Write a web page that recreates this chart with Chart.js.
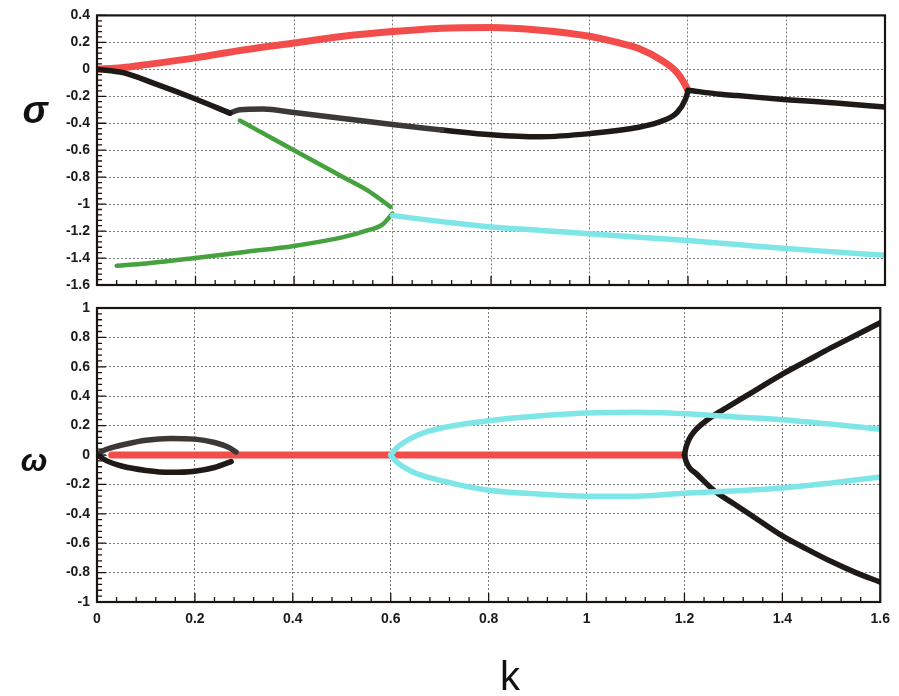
<!DOCTYPE html>
<html>
<head>
<meta charset="utf-8">
<script src="https://cdn.jsdelivr.net/npm/chart.js@4.4.0/dist/chart.umd.min.js"></script>
<style>
  html, body { margin: 0; padding: 0; background: #fff; }
  #wrap { position: relative; width: 899px; height: 696px; overflow: hidden; }
  #wrap canvas { position: absolute; left: 0; top: 0; }
  .lbl { position: absolute; font-family: "Liberation Sans", Arial, sans-serif; color: #111; transform: translate(-50%, -50%); line-height: 1; }
  #sig { left: 35px; top: 110px; font-size: 38px; font-weight: bold; font-style: italic; }
  #omg { left: 34px; top: 460px; font-size: 32px; font-weight: bold; font-style: italic; }
  #kk { left: 510px; top: 676px; font-size: 40px; }
</style>
</head>
<body>
<div id="wrap">
  <canvas id="topChart" width="899" height="696"></canvas>
  <canvas id="botChart" width="899" height="696"></canvas>
  <div class="lbl" id="sig">σ</div>
  <div class="lbl" id="omg">ω</div>
  <div class="lbl" id="kk">k</div>
</div>
<script>
// ---- data ----
// top panel: sigma(k)
const redTopK = [0, 0.05, 0.1, 0.2, 0.3, 0.4, 0.5, 0.6, 0.7, 0.8, 0.9, 1.0, 1.05, 1.1, 1.145, 1.178, 1.195, 1.2];
const redTopS = [0, 0.012, 0.035, 0.085, 0.145, 0.195, 0.245, 0.28, 0.305, 0.31, 0.29, 0.245, 0.205, 0.155, 0.07, -0.025, -0.12, -0.16];

const blackTopK = [0, 0.053, 0.12, 0.2, 0.27];
const blackTopS = [0, -0.025, -0.11, -0.22, -0.325];

const greyTopK = [0.27, 0.29, 0.337, 0.4, 0.5, 0.6, 0.7];
const greyTopS = [-0.325, -0.3, -0.295, -0.32, -0.365, -0.41, -0.45];

const loopTopK = [0.7, 0.8, 0.9, 1.0, 1.1, 1.15, 1.178, 1.195, 1.2];
const loopTopS = [-0.45, -0.485, -0.5, -0.477, -0.43, -0.38, -0.32, -0.22, -0.16];

const rightTopK = [1.2, 1.266, 1.3, 1.4, 1.5, 1.6];
const rightTopS = [-0.155, -0.185, -0.195, -0.225, -0.25, -0.28];

const greenUpK = [0.29, 0.35, 0.4, 0.45, 0.5, 0.55, 0.596];
const greenUpS = [-0.38, -0.5, -0.6, -0.7, -0.8, -0.9, -1.02];

const greenLowK = [0.04, 0.1, 0.2, 0.3, 0.4, 0.5, 0.547, 0.58, 0.6];
const greenLowS = [-1.457, -1.44, -1.4, -1.355, -1.31, -1.245, -1.197, -1.15, -1.07];

const cyanTopK = [0.6, 0.7, 0.8, 0.9, 1.0, 1.1, 1.2, 1.3, 1.4, 1.5, 1.6];
const cyanTopS = [-1.085, -1.13, -1.17, -1.195, -1.22, -1.245, -1.27, -1.3, -1.33, -1.355, -1.38];

// bottom panel: omega(k)
const redBotK = [0.03, 1.2];
const redBotW = [0, 0];

const greyBotK = [0, 0.01, 0.03, 0.06, 0.1, 0.15, 0.2, 0.24, 0.27, 0.284];
const greyBotW = [0, 0.025, 0.05, 0.075, 0.1, 0.112, 0.108, 0.085, 0.05, 0.02];

const blackBotK = [0, 0.02, 0.05, 0.1, 0.15, 0.2, 0.24, 0.274];
const blackBotW = [0, -0.04, -0.075, -0.105, -0.118, -0.11, -0.085, -0.045];

const cyanUpK = [0.6, 0.608, 0.629, 0.676, 0.8, 0.9, 1.0, 1.1, 1.2, 1.3, 1.4, 1.5, 1.6];
const cyanUpW = [0, 0.034, 0.09, 0.16, 0.233, 0.265, 0.285, 0.29, 0.28, 0.26, 0.24, 0.21, 0.175];

const cyanLowK = [0.6, 0.608, 0.642, 0.71, 0.8, 0.9, 1.0, 1.1, 1.2, 1.3, 1.4, 1.5, 1.6];
const cyanLowW = [0, -0.034, -0.11, -0.18, -0.24, -0.265, -0.28, -0.28, -0.26, -0.245, -0.225, -0.19, -0.15];

const parUpK = [1.2, 1.203, 1.21, 1.22, 1.245, 1.28, 1.32, 1.36, 1.4, 1.45, 1.5, 1.55, 1.6];
const parUpW = [0, 0.05, 0.11, 0.16, 0.235, 0.31, 0.39, 0.47, 0.55, 0.64, 0.73, 0.815, 0.9];

const parLowK = [1.2, 1.203, 1.21, 1.225, 1.26, 1.3, 1.35, 1.4, 1.45, 1.5, 1.55, 1.6];
const parLowW = [0, -0.04, -0.085, -0.13, -0.24, -0.33, -0.44, -0.55, -0.64, -0.725, -0.8, -0.865];

// ---- styles ----
const RED = '#f24d4a';
const BLACK = '#1e1a18';
const GREEN = '#46a23e';
const CYAN = '#7fe6e8';

function pts(ks, vs) {
  return ks.map(function (k, i) { return { x: k, y: vs[i] }; });
}
function curve(ks, vs, color, width, dash) {
  return {
    data: pts(ks, vs),
    borderColor: color,
    borderWidth: width,
    borderDash: dash || [],
    showLine: true,
    pointRadius: 0,
    fill: false,
    cubicInterpolationMode: 'monotone',
    borderCapStyle: 'round',
  };
}
// dark line with light dots on it, like the ring markers in the picture
function chain(ks, vs) {
  return [curve(ks, vs, '#3b3836', 5.5), curve(ks, vs, '#d0d0d0', 1.6, [1.5, 2.5])];
}

// frame + small inward ticks
const framePlugin = {
  id: 'frame',
  afterDraw(chart, args, opts) {
    const ctx = chart.ctx;
    const a = chart.chartArea;
    const x = chart.scales.x;
    const y = chart.scales.y;
    ctx.save();
    ctx.strokeStyle = '#1a1410';
    ctx.lineWidth = 1.3;
    ctx.beginPath();
    for (let i = 0; i <= 40; i++) {
      const px = x.getPixelForValue(i * 0.04);
      const len = i % 5 === 0 ? 9 : 5;
      ctx.moveTo(px, a.bottom);
      ctx.lineTo(px, a.bottom - len);
    }
    const n = Math.round((opts.ymax - opts.ymin) / 0.04);
    for (let j = 0; j <= n; j++) {
      const py = y.getPixelForValue(opts.ymin + j * 0.04);
      const len = j % 5 === 0 ? 9 : 5;
      ctx.moveTo(a.left, py);
      ctx.lineTo(a.left + len, py);
    }
    ctx.stroke();
    ctx.lineWidth = 2.2;
    ctx.strokeRect(a.left, a.top, a.right - a.left, a.bottom - a.top);
    ctx.restore();
  }
};

const tickFont = { family: '"Liberation Sans", Arial, sans-serif', weight: 'bold', size: 14 };

function makeOptions(ymin, ymax, padding, showX) {
  return {
    responsive: false,
    animation: false,
    layout: { padding: padding },
    plugins: { legend: { display: false }, tooltip: { enabled: false }, frame: { ymin: ymin, ymax: ymax } },
    scales: {
      x: {
        type: 'linear', min: 0, max: 1.6,
        ticks: {
          display: showX, stepSize: 0.2, padding: 9, color: '#1a1a1a', font: tickFont,
          callback: function (v) { return String(+v.toFixed(1)); }
        },
        grid: { color: '#7a7a7a', lineWidth: 1, drawTicks: false },
        border: { display: false, dash: [2, 2] },
        afterFit: function (s) { s.height = showX ? 94 : 0; }
      },
      y: {
        type: 'linear', min: ymin, max: ymax,
        ticks: {
          stepSize: 0.2, padding: 7, color: '#1a1a1a', font: tickFont,
          callback: function (v) { return String(+v.toFixed(1)); }
        },
        grid: { color: '#7a7a7a', lineWidth: 1, drawTicks: false },
        border: { display: false, dash: [2, 2] },
        afterFit: function (s) { s.width = 97; }
      }
    }
  };
}

new Chart(document.getElementById('topChart'), {
  type: 'scatter',
  data: {
    datasets: [
      curve(cyanTopK, cyanTopS, CYAN, 5.5),
      curve(greenLowK, greenLowS, GREEN, 4.5),
      curve(greenUpK, greenUpS, GREEN, 4.5),
      curve(blackTopK, blackTopS, BLACK, 5.5),
    ].concat(chain(greyTopK, greyTopS), [
      curve(loopTopK, loopTopS, BLACK, 5.5),
      curve(rightTopK, rightTopS, BLACK, 5.5),
      curve(redTopK, redTopS, RED, 7),
    ])
  },
  options: makeOptions(-1.6, 0.4, { left: 0, top: 12, right: 14, bottom: 411 }, false),
  plugins: [framePlugin]
});

new Chart(document.getElementById('botChart'), {
  type: 'scatter',
  data: {
    datasets: [
      curve(cyanUpK, cyanUpW, CYAN, 5.5),
      curve(cyanLowK, cyanLowW, CYAN, 5.5),
      curve(parUpK, parUpW, BLACK, 5.5),
      curve(parLowK, parLowW, BLACK, 5.5),
      curve(blackBotK, blackBotW, BLACK, 5.5),
    ].concat(chain(greyBotK, greyBotW), [
      curve(redBotK, redBotW, RED, 7),
    ])
  },
  options: makeOptions(-1, 1, { left: 0, top: 308, right: 14, bottom: 0 }, true),
  plugins: [framePlugin]
});
</script>
</body>
</html>
